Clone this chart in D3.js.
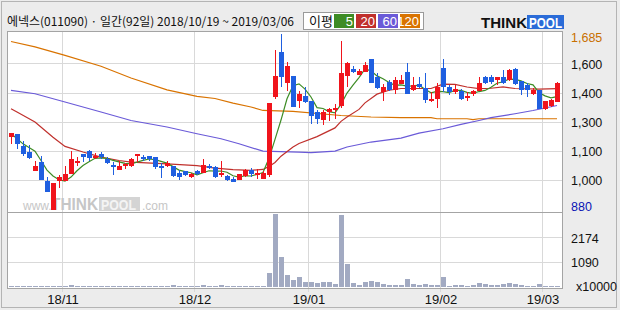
<!DOCTYPE html>
<html>
<head>
<meta charset="utf-8">
<script src="https://cdn.jsdelivr.net/npm/d3@7"></script>
<style>
	body { margin: 0; background: #ececec; }
	svg { display: block; }
	text { font-family: "Liberation Sans", Arial, sans-serif; }
	.kr { font-family: "Noto Sans CJK KR", sans-serif; }
</style>
</head>
<body>
<svg id="chart" width="620" height="310"></svg>
<script>
// daily candles, 2018/10/19 ~ 2019/03/06 (92 trading days)
var opens  = [1215,1225,1170,1145,1055,1100,1010,880,1010,1010, 1045,1095,1135,1150,1120,1135,1110,1085,1060,1080,
              1080,1125,1120,1125,1120,1080,1080,1080,1050,1055, 1030,1055,1050,1080,1075,1045,1035,1020,1015,1035,
              1060,1045,1020,1040,1395,1605,1460,1495,1380,1400, 1380,1330,1290,1330,1335,1355,1495,1525,1500,1510,
              1570,1490,1420,1465,1430,1455,1510,1430,1455,1440, 1385,1390,1530,1445,1420,1425,1395,1410,1425,1490,
              1490,1475,1490,1475,1525,1470,1450,1410,1430,1340, 1355,1375];
var highs  = [1230,1225,1195,1175,1105,1125,1030,1000,1040,1080, 1150,1120,1135,1155,1140,1145,1120,1100,1105,1095,
              1115,1135,1130,1125,1120,1095,1105,1080,1060,1055, 1050,1060,1110,1090,1080,1105,1040,1030,1045,1065,
              1070,1065,1055,1370,1615,1685,1560,1495,1425,1445, 1380,1335,1335,1345,1365,1655,1560,1540,1525,1560,
              1570,1505,1455,1475,1490,1500,1555,1490,1490,1505, 1420,1460,1570,1450,1450,1435,1420,1430,1490,1495,
              1500,1490,1520,1525,1530,1470,1460,1440,1430,1380, 1390,1465];
var lows   = [1180,1160,1125,1110,1055,1015,960,880,980,1010, 1045,1080,1100,1105,1110,1110,1090,1040,1060,1065,
              1075,1100,1105,1105,1065,1025,1075,1030,1015,1035, 1025,1040,1050,1065,1025,1030,1010,1005,1015,1030,
              1030,1020,1020,1030,1390,1445,1425,1350,1345,1370, 1275,1275,1270,1285,1295,1345,1445,1505,1500,1510,
              1460,1435,1380,1425,1410,1455,1410,1425,1440,1370, 1375,1345,1420,1405,1410,1385,1380,1400,1425,1455,
              1455,1450,1455,1470,1450,1405,1395,1405,1340,1335, 1350,1375];
var closes = [1230,1180,1135,1115,1080,1015,960,1000,1030,1045, 1110,1105,1120,1115,1125,1120,1095,1075,1080,1090,
              1110,1135,1115,1110,1075,1070,1095,1035,1030,1040, 1045,1045,1085,1075,1030,1050,1015,1005,1045,1060,
              1045,1050,1050,1370,1495,1490,1540,1350,1410,1375, 1310,1295,1330,1340,1345,1505,1555,1510,1515,1545,
              1460,1440,1445,1430,1475,1475,1410,1450,1445,1385, 1390,1445,1445,1420,1435,1390,1400,1425,1460,1460,
              1465,1490,1460,1520,1455,1430,1430,1430,1340,1380, 1385,1460];
// volume, x10000 shares
var volumes = [45,45,45,45,45,45,45,45,45,45, 90,45,45,45,45,45,45,45,45,45,
               45,45,45,45,45,45,45,90,45,45, 45,45,90,45,45,90,45,45,45,45,
               45,45,45,600,3170,1300,520,300,450,230, 230,190,230,230,145,3130,1010,190,100,230,
               275,230,145,100,100,100,360,145,100,145, 100,100,450,45,90,90,45,90,190,145,
               90,90,145,190,145,90,45,45,145,45, 45,45];
// moving averages: [day index, price]
var ma20 = [[0,1343],[1,1328],[4,1282],[7,1212],[9,1170],[12,1144],[15,1121],[18,1105],[20,1098],[26,1090],
            [31,1082],[34,1070],[37,1063],[40,1060],[42,1064],[43,1078],[44,1096],[45,1125],[47,1167],[48,1183],
            [51,1215],[54,1255],[55,1285],[56,1305],[58,1340],[59,1370],[61,1410],[63,1428],[65,1436],[70,1436],
            [72,1456],[74,1455],[76,1443],[78,1435],[80,1437],[82,1443],[84,1436],[88,1433],[91,1435]];
var ma60 = [[0,1427],[4,1412],[9,1374],[15,1328],[20,1289],[26,1259],[31,1228],[35,1205],[38,1182],[42,1148],
            [48,1144],[50,1141],[54,1148],[56,1167],[60,1190],[65,1208],[68,1231],[72,1251],[75,1271],[78,1289],
            [80,1302],[84,1320],[87,1335],[91,1358]];
var ma120 = [[0,1652],[4,1627],[9,1588],[15,1538],[20,1484],[26,1430],[31,1400],[34,1390],[37,1369],[40,1351],
             [42,1335],[47,1331],[55,1312],[60,1305],[65,1302],[70,1302],[71,1297],[76,1297],[77,1293],[78,1297],
             [91,1297]];
var monthStarts = [9,31,50,72,89];
var monthLabels = ["18/11","18/12","19/01","19/02","19/03"];
var priceTickLabels = ["1,685","1,600","1,400","1,300","1,100","1,000","880"];
var volTickLabels = ["2174","1090","x10000"];
var maNames = ["5","20","60","120"];

var C = {
	up: "#f0141c", down: "#1f5fe0",
	ma5: "#3d8c25", ma20: "#c0302c", ma60: "#6a5ad8", ma120: "#d97300",
	grid: "#d9d9d9", frame: "#a4a4a4", vol: "#a2aac2"
};

var svg = d3.select("#chart");
var L = 7, R = 562, T = 31, MID = 212, B = 288;

var x = d3.scaleBand().domain(d3.range(closes.length)).range([8, 560]);
var y = d3.scaleLinear().domain([880, 1685]).range([209.5, 34.3]);
var yv = d3.scaleLinear().domain([0, 3261]).range([287, 212]);
var cx = function(i){ return x(i) + 3; };

// outer frame and background
svg.append("rect").attr("x",1.5).attr("y",1.5).attr("width",615).attr("height",306)
	.attr("fill","#ececec").attr("stroke","#b4b4b4");
svg.append("rect").attr("x",L).attr("y",T).attr("width",R-L).attr("height",B-T).attr("fill","#fff");

// title
svg.append("text").attr("class","kr").attr("x",7).attr("y",26)
	.attr("font-size",12).attr("fill","#111")
	.attr("textLength",287).attr("lengthAdjust","spacingAndGlyphs")
	.text("에넥스(011090) · 일간(92일) 2018/10/19 ~ 2019/03/06");

// legend
var lg = svg.append("g");
lg.append("rect").attr("x",303.5).attr("y",12.5).attr("width",120).attr("height",17)
	.attr("fill","#fff").attr("stroke","#9a9a9a");
lg.append("text").attr("class","kr").attr("x",309).attr("y",26).attr("font-size",13).attr("fill","#111").text("이평");
var maCols = [C.ma5, C.ma20, C.ma60, C.ma120];
maNames.forEach(function(n, k){
	var bx = 334 + k*22;
	lg.append("rect").attr("x",bx).attr("y",14).attr("width",20).attr("height",14).attr("fill",maCols[k]);
	lg.append("text").attr("x",bx+19).attr("y",26).attr("text-anchor","end")
		.attr("font-size",13).attr("fill","#fff").text(n);
});

// logo
var logo = svg.append("g");
logo.append("text").attr("x",481).attr("y",28).attr("font-size",15).attr("font-weight","bold")
	.attr("fill","#111").attr("textLength",46).attr("lengthAdjust","spacingAndGlyphs").text("THINK");
logo.append("rect").attr("x",527).attr("y",15).attr("width",37).attr("height",14).attr("fill","#2b6cd8");
logo.append("text").attr("x",529).attr("y",28).attr("font-size",15).attr("font-weight","bold")
	.attr("fill","#fff").attr("textLength",33).attr("lengthAdjust","spacingAndGlyphs").text("POOL");

// grid
var grid = svg.append("g").attr("shape-rendering","crispEdges").attr("stroke",C.grid);
d3.range(1,6).forEach(function(k){
	var gy = Math.round(y(880 + k*805/6)) + 0.5;
	grid.append("line").attr("x1",L).attr("x2",R).attr("y1",gy).attr("y2",gy);
});
[1090,2174].forEach(function(v){
	var gy = Math.round(yv(v)) + 0.5;
	grid.append("line").attr("x1",L).attr("x2",R).attr("y1",gy).attr("y2",gy);
});
monthStarts.forEach(function(i){
	grid.append("line").attr("x1",x(i)+0.5).attr("x2",x(i)+0.5).attr("y1",T).attr("y2",B+4);
});

// watermark
var wm = svg.append("g").attr("fill","#c6c6c6");
wm.append("text").attr("x",23).attr("y",210).attr("font-size",12).text("www.");
wm.append("text").attr("x",51).attr("y",210).attr("font-size",16).attr("font-weight","bold")
	.attr("textLength",47).attr("lengthAdjust","spacingAndGlyphs").text("THINK");
wm.append("rect").attr("x",99).attr("y",197).attr("width",41).attr("height",14).attr("fill","#d4d4d4");
wm.append("text").attr("x",101).attr("y",210).attr("font-size",15).attr("font-weight","bold").attr("fill","#f4f4f4")
	.attr("textLength",35).attr("lengthAdjust","spacingAndGlyphs").text("POOL");
wm.append("text").attr("x",142).attr("y",210).attr("font-size",12).text(".com");

// clip for price panel
svg.append("clipPath").attr("id","pclip").append("rect")
	.attr("x",L).attr("y",T).attr("width",R-L).attr("height",MID-T);
var pg = svg.append("g").attr("clip-path","url(#pclip)");

// moving averages
var line = d3.line().x(function(d){ return cx(d[0]); }).y(function(d){ return y(d[1]); });
var ma5 = closes.map(function(c, i){
	return [i, d3.mean(closes.slice(Math.max(0, i-4), i+1))];
});
[[ma120, C.ma120], [ma60, C.ma60], [ma20, C.ma20], [ma5, C.ma5]].forEach(function(m){
	pg.append("path").datum(m[0]).attr("d",line).attr("fill","none")
		.attr("stroke",m[1]).attr("stroke-width",1.2);
});

// candles
var cg = pg.append("g").attr("shape-rendering","crispEdges");
var cd = cg.selectAll("g.c").data(d3.range(closes.length)).enter().append("g");
cd.append("rect")
	.attr("x",function(i){ return x(i)+3; })
	.attr("width",1)
	.attr("y",function(i){ return Math.round(y(highs[i])); })
	.attr("height",function(i){ return Math.max(1, Math.round(y(lows[i])) - Math.round(y(highs[i]))); })
	.attr("fill",function(i){ return closes[i] >= opens[i] ? C.up : C.down; });
cd.append("rect")
	.attr("x",function(i){ return x(i)+1; })
	.attr("width",5)
	.attr("y",function(i){ return Math.round(y(Math.max(opens[i], closes[i]))); })
	.attr("height",function(i){
		return Math.max(2, Math.round(y(Math.min(opens[i], closes[i]))) - Math.round(y(Math.max(opens[i], closes[i]))));
	})
	.attr("fill",function(i){ return closes[i] >= opens[i] ? C.up : C.down; });

// volume bars
svg.append("g").attr("shape-rendering","crispEdges").selectAll("rect")
	.data(volumes).enter().append("rect")
	.attr("x",function(d,i){ return x(i)+1; })
	.attr("width",5)
	.attr("y",function(d){ return Math.round(yv(d)); })
	.attr("height",function(d){ return Math.max(1, 287 - Math.round(yv(d))); })
	.attr("fill",C.vol);

// frame lines
var fr = svg.append("g").attr("shape-rendering","crispEdges").attr("stroke",C.frame).attr("fill","none");
fr.append("rect").attr("x",L+0.5).attr("y",T+0.5).attr("width",R-L).attr("height",B-T);
fr.append("line").attr("x1",L).attr("x2",R).attr("y1",MID+0.5).attr("y2",MID+0.5);

// right axis labels
var py = [38, 64.5, 93.5, 122.5, 151.5, 181, 207];
priceTickLabels.forEach(function(t, k){
	svg.append("text").attr("x",571).attr("y",py[k]).attr("dy","0.35em")
		.attr("font-size",12.5)
		.attr("fill", k === 0 ? "#c87000" : (k === priceTickLabels.length-1 ? "#0a14b4" : "#111"))
		.text(t);
});
var vy = [239, 263, 287];
volTickLabels.forEach(function(t, k){
	svg.append("text").attr("x", k === 2 ? 576 : 571).attr("y",vy[k]).attr("dy","0.35em")
		.attr("font-size",12.5).attr("fill","#111").text(t);
});

// month labels
monthLabels.forEach(function(t, k){
	svg.append("text").attr("x",x(monthStarts[k])+1).attr("y",299).attr("dy","0.35em")
		.attr("text-anchor","middle").attr("font-size",13).attr("fill","#111").text(t);
});
</script>
</body>
</html>
